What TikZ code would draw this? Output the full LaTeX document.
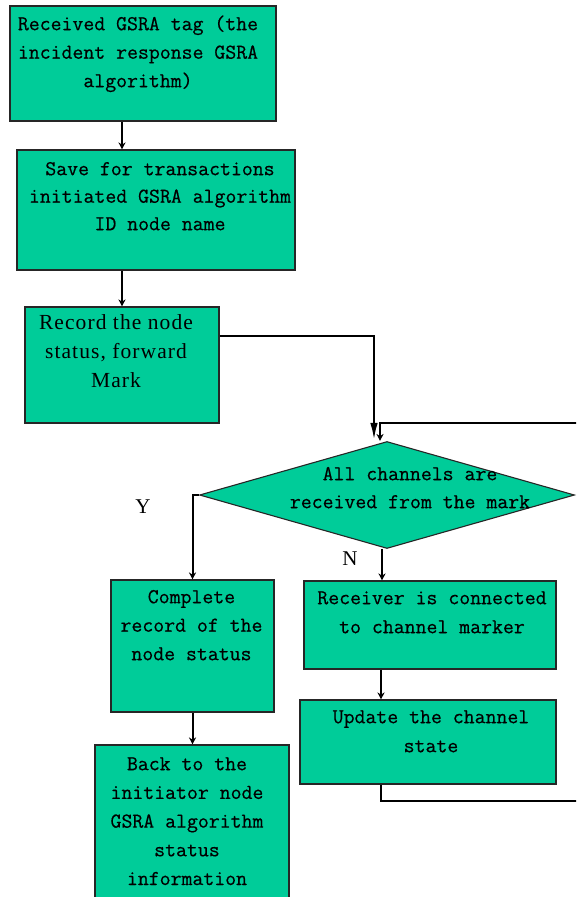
\documentclass[tikz,border=0pt]{standalone}
\usepackage{fontspec}
\setmainfont{Liberation Serif}
\newfontfamily\monof[FakeBold=0.5]{Latin Modern Mono}
\newfontfamily\seriff[LetterSpace=5]{Liberation Serif}
\usetikzlibrary{shapes.geometric,arrows.meta}
\definecolor{boxfill}{HTML}{00CC99}
\begin{document}
\begin{tikzpicture}[x=1pt,y=-1pt,
  box/.style={draw=black!85, line width=1.1pt, fill=boxfill, inner sep=0pt},
  mtext/.style={anchor=north, inner sep=0pt, align=center, font=\fontsize{21.2}{28.5}\selectfont\monof},
  stext/.style={anchor=north, inner sep=0pt, align=center, font=\fontsize{21.5}{29}\selectfont\seriff},
  lbl/.style={anchor=base, inner sep=0pt, font=\fontsize{21}{24}\selectfont},
  arr/.style={line width=2pt, -{Stealth[length=7pt,width=7pt]}},
  bigarr/.style={line width=2.6pt, -{Latex[length=18pt,width=7.5pt]}}
]
\useasboundingbox (0,0) rectangle (576,897);
\begin{scope}
\clip (0,0) rectangle (576,897);
% boxes
\node (b1) [box, minimum width=266pt, minimum height=115pt] at (143,63.5) {};
\node (b2) [box, minimum width=278pt, minimum height=120pt] at (156,210) {};
\node (b3) [box, minimum width=194pt, minimum height=116pt] at (122,365) {};
\node (dia) [box, diamond, minimum width=375pt, minimum height=107pt] at (387,495) {};
\node (b4) [box, minimum width=163pt, minimum height=132pt] at (192.5,646) {};
\node (b5) [box, minimum width=194pt, minimum height=170pt] at (192,830) {};
\node (b6) [box, minimum width=252pt, minimum height=88pt] at (430,625) {};
\node (b7) [box, minimum width=256pt, minimum height=84pt] at (428,742) {};
% texts
\node (t1) [mtext] at (138,14) {\rule{0pt}{16pt}Received GSRA tag (the\\incident response GSRA\\algorithm)};
\node (t2) [mtext, font=\fontsize{21.2}{27.5}\selectfont\monof] at (160,159) {\rule{0pt}{16pt}Save for transactions\\initiated GSRA algorithm\\ID node name};
\node (t3) [stext] at (116,313) {\rule{0pt}{16pt}Record the node\\status, forward\\Mark};
\node (td) [mtext, font=\fontsize{21.2}{28}\selectfont\monof] at (410,464) {\rule{0pt}{16pt}All channels are\\received from the mark};
\node (t4) [mtext] at (191.5,587) {\rule{0pt}{16pt}Complete\\record of the\\node status};
\node (t5) [mtext, font=\fontsize{21.2}{28.7}\selectfont\monof] at (187,754) {\rule{0pt}{16pt}Back to the\\initiator node\\GSRA algorithm\\status\\information};
\node (t6) [mtext, font=\fontsize{21.2}{29}\selectfont\monof] at (432,588) {\rule{0pt}{16pt}Receiver is connected\\to channel marker};
\node (t7) [mtext, font=\fontsize{21.2}{29}\selectfont\monof] at (431,707) {\rule{0pt}{16pt}Update the channel\\state};
% labels
\node (ly) [lbl] at (143,513) {Y};
\node (ln) [lbl] at (350,565) {N};
% loop corners (just beyond the right edge)
\coordinate (lb) at (582,801);
\coordinate (lt) at (582,423);
% connectors
\draw[arr] ([xshift=-21pt]b1.south) -- ([xshift=-21pt]b1.south |- b2.north);
\draw[arr] (b3.north |- b2.south) -- (b3.north);
\draw[bigarr] ([yshift=29pt]b3.east) -| ([xshift=-13pt]dia.north);
\draw[arr] ([xshift=-47pt]b7.south) |- (lb) -- (lt) -| ([xshift=-7pt]dia.north);
\draw[arr] (dia.west) -| (b4.north);
\draw[arr] ([xshift=-5pt]dia.south) -- ([xshift=-5pt]dia.south |- b6.north);
\draw[arr] (b4.south) -- (b4.south |- b5.north);
\draw[arr] ([xshift=-49pt]b6.south) -- ([xshift=-49pt]b6.south |- b7.north);
\end{scope}
\end{tikzpicture}
\end{document}
